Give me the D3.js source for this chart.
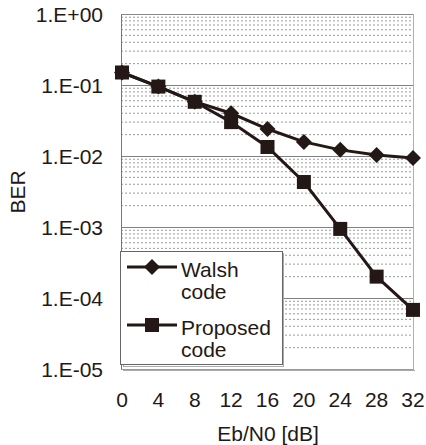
<!DOCTYPE html>
<html><head><meta charset="utf-8">
<script src="https://cdn.jsdelivr.net/npm/d3@7/dist/d3.min.js"></script>
<style>body{margin:0;background:#fff}svg{display:block}text{font-family:"Liberation Sans",Arial,sans-serif;fill:#231815}</style>
</head><body><svg id="c" width="426" height="445"></svg>
<script>
const xValues = [0, 4, 8, 12, 16, 20, 24, 28, 32];
const walsh = [0.15, 0.095, 0.058, 0.040, 0.024, 0.0158, 0.0122, 0.0103, 0.0094];
const proposed = [0.15, 0.095, 0.058, 0.030, 0.0134, 0.0043, 0.00094, 0.0002, 0.000068];
const yTicks = [1, 1e-1, 1e-2, 1e-3, 1e-4, 1e-5];
const yTickLabels = ["1.E+00", "1.E-01", "1.E-02", "1.E-03", "1.E-04", "1.E-05"];
const seriesNames = ["Walsh\ncode", "Proposed\ncode"];

const svg = d3.select("#c");
const L = 121, R = 413, T = 14, B = 369;
const x = d3.scaleLinear().domain([0, 32]).range([122, 413]);
const y = d3.scaleLog().domain([1e-5, 1]).range([B, T]);
const ink = "#231815";

// minor gridlines
const minors = [];
for (let e = -5; e < 0; e++) for (let m = 2; m <= 9; m++) minors.push(m * Math.pow(10, e));
svg.append("g").selectAll("line").data(minors).join("line")
  .attr("x1", L).attr("x2", R).attr("y1", d => y(d)).attr("y2", d => y(d))
  .attr("stroke", "#9a9a9a").attr("stroke-width", 1).attr("stroke-dasharray", "2,2");
// major gridlines
svg.append("g").selectAll("line").data(yTicks.slice(1, 5)).join("line")
  .attr("x1", L).attr("x2", R).attr("y1", d => Math.round(y(d)) + 0.5).attr("y2", d => Math.round(y(d)) + 0.5)
  .attr("stroke", "#808080").attr("stroke-width", 1);
// frame
svg.append("line").attr("x1", L + 2).attr("x2", R + 2).attr("y1", B + 1.5).attr("y2", B + 1.5).attr("stroke", "#aaa");
svg.append("line").attr("x1", R + 0.5).attr("x2", R + 0.5).attr("y1", T).attr("y2", B + 1).attr("stroke", "#b0b0b0");
svg.append("line").attr("x1", L).attr("x2", R).attr("y1", T + 0.5).attr("y2", T + 0.5).attr("stroke", "#888");
svg.append("line").attr("x1", L + 0.5).attr("x2", L + 0.5).attr("y1", T).attr("y2", B).attr("stroke", "#777");
svg.append("line").attr("x1", L).attr("x2", R).attr("y1", B + 0.5).attr("y2", B + 0.5).attr("stroke", "#999");

// y tick labels
svg.append("g").selectAll("text").data(yTicks).join("text")
  .attr("x", 103).attr("y", d => y(d)).attr("dy", "0.36em").attr("text-anchor", "end")
  .attr("font-size", 21).text((d, i) => yTickLabels[i]);
// x tick labels
svg.append("g").selectAll("text").data(xValues).join("text")
  .attr("x", d => x(d)).attr("y", 407).attr("text-anchor", "middle")
  .attr("font-size", 21).text(d => d);
// axis titles
svg.append("text").attr("x", 268).attr("y", 441).attr("text-anchor", "middle").attr("font-size", 21).text("Eb/N0 [dB]");
svg.append("text").attr("transform", "translate(25,192) rotate(-90)").attr("text-anchor", "middle").attr("font-size", 21).text("BER");

const line = d3.line().x((d, i) => x(xValues[i])).y(d => y(d));
const diamond = d3.symbol().type(d3.symbolDiamond2 || d3.symbolSquare2).size(1);
function drawDiamond(g, cx, cy, r) {
  g.append("path").attr("d", `M${cx},${cy - r}L${cx + r},${cy}L${cx},${cy + r}L${cx - r},${cy}Z`).attr("fill", ink);
}
function drawSquare(g, cx, cy, s) {
  g.append("rect").attr("x", cx - s / 2).attr("y", cy - s / 2).attr("width", s).attr("height", s).attr("fill", ink);
}
const gw = svg.append("g");
gw.append("path").attr("d", line(walsh)).attr("fill", "none").attr("stroke", ink).attr("stroke-width", 3);
walsh.forEach((v, i) => drawDiamond(gw, x(xValues[i]), y(v), 8));
const gp = svg.append("g");
gp.append("path").attr("d", line(proposed)).attr("fill", "none").attr("stroke", ink).attr("stroke-width", 3);
proposed.forEach((v, i) => drawSquare(gp, x(xValues[i]), y(v), 14));

// legend
const lg = svg.append("g");
lg.append("rect").attr("x", 123.5).attr("y", 253.5).attr("width", 160).attr("height", 113).attr("fill", "none").attr("stroke", "#aaa");
lg.append("rect").attr("x", 120.5).attr("y", 251.5).attr("width", 162).attr("height", 113).attr("fill", "#fff").attr("stroke", "#666");
const rows = [{y: 267, kind: "d"}, {y: 325, kind: "s"}];
rows.forEach((r, i) => {
  lg.append("line").attr("x1", 127).attr("x2", 177).attr("y1", r.y).attr("y2", r.y).attr("stroke", ink).attr("stroke-width", 3);
  if (r.kind === "d") drawDiamond(lg, 152, r.y, 8); else drawSquare(lg, 152, r.y, 14);
  const parts = seriesNames[i].split("\n");
  parts.forEach((p, j) => lg.append("text").attr("x", 181).attr("y", r.y + 10 + j * 22).attr("font-size", 21).text(p));
});
</script></body></html>
